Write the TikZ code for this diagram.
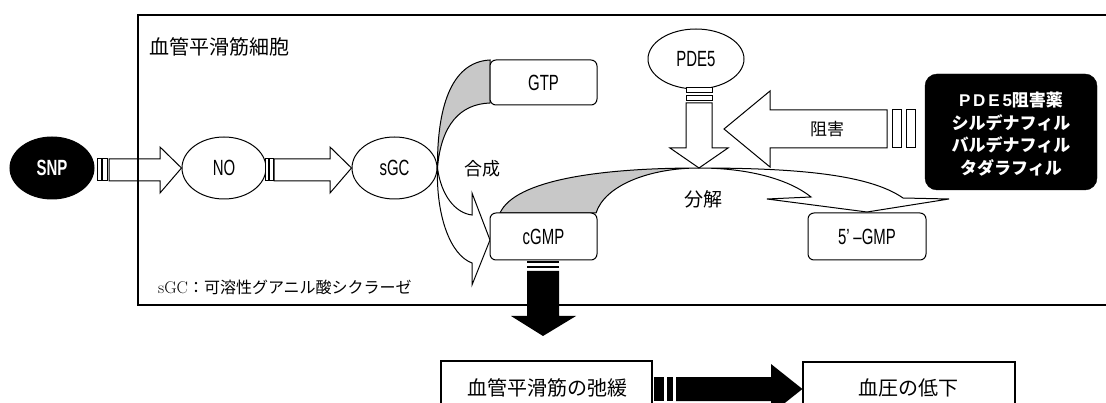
\documentclass[tikz,border=0pt]{standalone}
\usepackage{fontspec}
\newfontfamily\cjk{Noto Sans CJK JP}
\newfontfamily\narrow[FakeStretch=0.68]{Liberation Sans}
\usetikzlibrary{shapes.geometric}
\definecolor{shade}{HTML}{C8C8C8}
\begin{document}
\begin{tikzpicture}[x=1pt,y=-1pt,line join=miter,
  ol/.style={draw=black,line width=1pt},
  ell/.style={ellipse,ol,fill=white,inner sep=0pt},
  rbox/.style={ol,rounded corners=6pt,fill=white},
  lbl/.style={font=\narrow\fontsize{22}{22}\selectfont},
  jlbl/.style={font=\cjk\fontsize{#1}{#1}\selectfont},
  sqbox/.style={draw=black,line width=1.2pt,fill=white}]
\useasboundingbox (0,0) rectangle (1106,403);
\clip (0,0) rectangle (1106,403);
\fill[white] (0,0) rectangle (1106,403);

% title
\node[jlbl=20,anchor=west] (title) at (146,47) {血管平滑筋細胞};

% ellipses
\node[ell,fill=black,minimum width=84pt,minimum height=62pt] (snp) at (52,168) {};
\node[font=\narrow\bfseries\fontsize{22}{22}\selectfont,text=white] (snpt) at (snp.center) {SNP};
\node[ell,minimum width=84pt,minimum height=62pt,lbl] (no) at (224,168) {NO};
\node[ell,minimum width=85pt,minimum height=62pt,lbl] (sgc) at (394.5,168) {sGC};
\node[ell,minimum width=96pt,minimum height=60pt,lbl] (pde) at (696,59) {PDE5};

% arrow SNP -> NO
\draw[ol,fill=white] (97,159) rectangle (101,181);
\draw[ol,fill=white] (102.5,159) rectangle (107,181);
\draw[ol] (109,159) -- (160,159) -- (160,147) -- (no.west) -- (160,193) -- (160,181) -- (109,181) -- cycle;
% arrow NO -> sGC
\draw[ol,fill=white] (265,159) rectangle (268,181);
\draw[ol,fill=white] (269.5,159) rectangle (273,181);
\draw[ol] (274,159) -- (330,159) -- (330,147) -- (sgc.west) -- (330,193) -- (330,181) -- (274,181) -- cycle;

% synthesis arrow GTP -> cGMP
\coordinate (pinch) at (sgc.east);
\filldraw[ol,fill=shade] (490,60) .. controls (450,62) and (437,110) .. (pinch)
   .. controls (441,125) and (460,104) .. (490,103) -- cycle;
\draw[ol] (pinch) .. controls (441,195) and (455,213) .. (472,215)
   -- (472,193) -- (490,240) -- (472,285) -- (472,263)
   .. controls (450,255) and (436,215) .. (pinch);
\node[jlbl=18] (gosei) at (482,169) {合成};

% decomposition arrow cGMP -> 5'-GMP
\coordinate (cross) at (699,168);
\filldraw[ol,fill=shade] (500,213) .. controls (515,180) and (600,168) .. (cross)
   .. controls (650,168) and (605,185) .. (596,213) -- cycle;
\draw[ol] (cross) .. controls (800,168) and (870,175) .. (903,198)
   -- (949,199) -- (867,212) -- (767,199) -- (811,197)
   .. controls (790,180) and (750,168) .. (cross);
\node[jlbl=19] (bunkai) at (703,199) {分解};

% boxes
\node[rbox,minimum width=107pt,minimum height=45pt,lbl] (gtp) at (543.5,82.5) {GTP};
\node[rbox,minimum width=107pt,minimum height=47pt,lbl] (cgmp) at (543.5,236.5) {cGMP};
\node[rbox,minimum width=118pt,minimum height=47pt,lbl] (gmp) at (867,236.5) {5’\,–GMP};

% PDE5 down arrow
\draw[ol,fill=white] (686,88) rectangle (712,93);
\draw[ol,fill=white] (686,95.5) rectangle (712,100.5);
\draw[ol,fill=white] (686,103) -- (712,103) -- (712,148) -- (728,148) -- (cross) -- (670,148) -- (686,148) -- cycle;

% inhibitor box
\node[draw=black,fill=black,rounded corners=12pt,minimum width=172pt,minimum height=116pt,inner sep=0pt] (inh) at (1011,132) {};
\node[font=\cjk\bfseries\fontsize{17}{22.5}\selectfont,text=white,align=center] (inht) at (1011,134)
  {{\fontspec{Liberation Sans}\bfseries P\,D\,E\,5}阻害薬\\シルデナフィル\\バルデナフィル\\タダラフィル};

% inhibition arrow
\draw[ol,fill=white] (892,110) rectangle (901,148);
\draw[ol,fill=white] (906,110) rectangle (915,148);
\draw[ol,fill=white] (887,110) -- (770,110) -- (770,91) -- (724,129) -- (770,167) -- (770,148) -- (887,148) -- cycle;
\node[jlbl=17] (sogai) at (827,129) {阻害};

% footnote
\node[anchor=west,inner sep=0pt] (note) at (158,287)
  {\fontsize{17}{17}\selectfont sGC\cjk\fontsize{16}{16}\selectfont：可溶性グアニル酸シクラーゼ};

% cell border
\draw[line width=1.4pt] (1112,15) -- (138,15) -- (138,305) -- (1112,305);

% black down arrow from cGMP
\fill[black] (527,261) rectangle (559,263.5);
\fill[black] (527,266) rectangle (559,268.5);
\fill[black] (527,271) -- (559,271) -- (559,316) -- (576,316) -- (543,336) -- (511,316) -- (527,316) -- cycle;

% bottom boxes
\node[sqbox,minimum width=211pt,minimum height=54pt,inner sep=0pt] (relax) at (546.5,388) {};
\node[jlbl=20] (relaxt) at (547,388) {血管平滑筋の弛緩};
\node[sqbox,minimum width=212pt,minimum height=54pt,inner sep=0pt] (bp) at (909,389) {};
\node[jlbl=20] (bpt) at (908,388) {血圧の低下};

% black right arrow
\fill[black] (654,377) rectangle (664,401);
\fill[black] (666.5,377) rectangle (673,401);
\fill[black] (676,377) -- (771,377) -- (771,364) -- (bp.west) -- (771,414) -- (771,401) -- (676,401) -- cycle;
\end{tikzpicture}
\end{document}
